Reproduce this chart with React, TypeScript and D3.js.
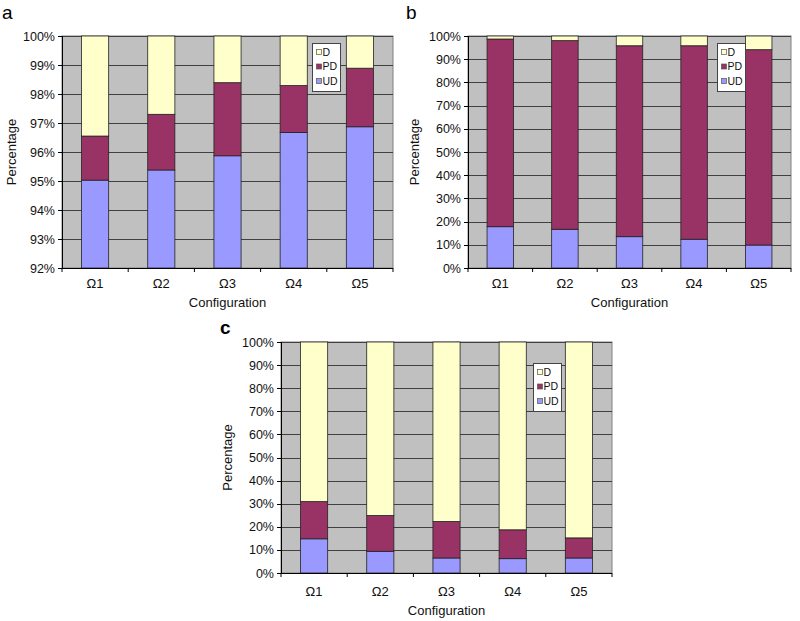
import React, { useEffect, useRef } from 'react';
import * as d3 from 'd3';

const categories = ['Ω1', 'Ω2', 'Ω3', 'Ω4', 'Ω5'];
const seriesKeys = ['UD', 'PD', 'D'];
const legendOrder = ['D', 'PD', 'UD'];

// panel a (92% - 100%)
const aUD = [95.03, 95.38, 95.87, 96.67, 96.87];
const aPD = [1.52, 1.92, 2.52, 1.62, 2.02];
const aD = [3.45, 2.7, 1.61, 1.71, 1.11];
const aTicks = [92, 93, 94, 95, 96, 97, 98, 99, 100];

// panel b
const bUD = [17.8, 16.7, 13.5, 12.4, 9.9];
const bPD = [80.9, 81.3, 82.3, 83.4, 84.2];
const bD = [1.3, 2.0, 4.2, 4.2, 5.9];

// panel c
const cUD = [14.8, 9.4, 6.5, 6.2, 6.5];
const cPD = [16.1, 15.5, 15.8, 12.5, 8.7];
const cD = [69.1, 75.1, 77.7, 81.3, 84.8];
const tens = [0, 10, 20, 30, 40, 50, 60, 70, 80, 90, 100];

const colors: Record<string, string> = { UD: '#9999ff', PD: '#993366', D: '#ffffcc' };
const font = 'Arial, "Liberation Sans", sans-serif';

interface Panel {
  letter: string;
  bold: boolean;
  ud: number[];
  pd: number[];
  d: number[];
  ticks: number[];
  domain: [number, number];
  box: { left: number; right: number; top: number; bottom: number };
  letterPos: [number, number];
  yTitleX: number;
  labelOff: number;
  titleOff: number;
  legend: { x: number; y: number };
}

const panels: Panel[] = [
  {
    letter: 'a', bold: false, ud: aUD, pd: aPD, d: aD, ticks: aTicks, domain: [92, 100],
    box: { left: 62, right: 393, top: 36, bottom: 268 },
    letterPos: [2, 19], yTitleX: 12, labelOff: 20, titleOff: 39, legend: { x: 312, y: 43 },
  },
  {
    letter: 'b', bold: false, ud: bUD, pd: bPD, d: bD, ticks: tens, domain: [0, 100],
    box: { left: 468, right: 791, top: 36, bottom: 268 },
    letterPos: [406, 19], yTitleX: 415, labelOff: 20, titleOff: 39, legend: { x: 717, y: 43 },
  },
  {
    letter: 'c', bold: true, ud: cUD, pd: cPD, d: cD, ticks: tens, domain: [0, 100],
    box: { left: 281, right: 612, top: 342, bottom: 573 },
    letterPos: [220, 334], yTitleX: 228, labelOff: 23, titleOff: 42, legend: { x: 533, y: 363 },
  },
];

function drawPanel(svg: d3.Selection<SVGSVGElement, unknown, null, undefined>, p: Panel) {
  const { left, right, top, bottom } = p.box;
  const g = svg.append('g');
  const pad = 0.59;

  const x = d3.scaleBand<string>()
    .domain(categories)
    .range([left, right])
    .paddingInner(pad)
    .paddingOuter(pad / 2);
  const step = x.step();

  const y = d3.scaleLinear().domain(p.domain).range([bottom, top]).clamp(true);

  const rows = categories.map((c, i) => ({ cat: c, UD: p.ud[i], PD: p.pd[i], D: p.d[i] }));
  const stacked = d3.stack<any>().keys(seriesKeys)(rows);

  // plot background
  g.append('rect')
    .attr('x', left).attr('y', top)
    .attr('width', right - left).attr('height', bottom - top)
    .attr('fill', '#c0c0c0')
    .attr('stroke', '#808080');

  // gridlines
  g.append('g').selectAll('line')
    .data(p.ticks)
    .join('line')
    .attr('x1', left).attr('x2', right)
    .attr('y1', d => Math.round(y(d)) + 0.5).attr('y2', d => Math.round(y(d)) + 0.5)
    .attr('stroke', '#404040')
    .attr('stroke-width', 1);

  // bars
  g.append('g').selectAll('g')
    .data(stacked)
    .join('g')
    .attr('fill', d => colors[d.key])
    .selectAll('rect')
    .data(d => d)
    .join('rect')
    .attr('x', d => x(d.data.cat)!)
    .attr('width', x.bandwidth())
    .attr('y', d => y(d[1]))
    .attr('height', d => y(d[0]) - y(d[1]))
    .attr('stroke', '#222')
    .attr('stroke-width', 0.8);

  // y axis
  g.append('line')
    .attr('x1', left + 0.5).attr('x2', left + 0.5)
    .attr('y1', top).attr('y2', bottom)
    .attr('stroke', '#000');
  g.append('g').selectAll('line')
    .data(p.ticks)
    .join('line')
    .attr('x1', left - 4).attr('x2', left)
    .attr('y1', d => Math.round(y(d)) + 0.5).attr('y2', d => Math.round(y(d)) + 0.5)
    .attr('stroke', '#000');
  g.append('g').selectAll('text')
    .data(p.ticks)
    .join('text')
    .attr('x', left - 7)
    .attr('y', d => y(d))
    .attr('dy', '0.36em')
    .attr('text-anchor', 'end')
    .attr('font-family', font)
    .attr('font-size', 12.5)
    .attr('fill', '#111')
    .text(d => `${d}%`);

  // x axis
  g.append('line')
    .attr('x1', left).attr('x2', right)
    .attr('y1', bottom + 0.5).attr('y2', bottom + 0.5)
    .attr('stroke', '#000');
  g.append('g').selectAll('line')
    .data(d3.range(categories.length + 1))
    .join('line')
    .attr('x1', i => left + i * step).attr('x2', i => left + i * step)
    .attr('y1', bottom).attr('y2', bottom + 4)
    .attr('stroke', '#000');
  g.append('g').selectAll('text')
    .data(categories)
    .join('text')
    .attr('x', c => x(c)! + x.bandwidth() / 2)
    .attr('y', bottom + p.labelOff)
    .attr('text-anchor', 'middle')
    .attr('font-family', font)
    .attr('font-size', 13)
    .attr('fill', '#111')
    .text(c => c);

  // axis titles
  g.append('text')
    .attr('x', (left + right) / 2)
    .attr('y', bottom + p.titleOff)
    .attr('text-anchor', 'middle')
    .attr('font-family', font)
    .attr('font-size', 13)
    .attr('fill', '#111')
    .text('Configuration');
  g.append('text')
    .attr('transform', `translate(${p.yTitleX + 4},${(top + bottom) / 2}) rotate(-90)`)
    .attr('text-anchor', 'middle')
    .attr('font-family', font)
    .attr('font-size', 13)
    .attr('fill', '#111')
    .text('Percentage');

  // panel letter
  g.append('text')
    .attr('x', p.letterPos[0]).attr('y', p.letterPos[1])
    .attr('font-family', font)
    .attr('font-size', 19)
    .attr('font-weight', p.bold ? 'bold' : 'normal')
    .attr('fill', '#000')
    .text(p.letter);

  // legend
  const lg = g.append('g').attr('transform', `translate(${p.legend.x},${p.legend.y})`);
  lg.append('rect')
    .attr('x', 0.5).attr('y', 0.5)
    .attr('width', 28).attr('height', 48)
    .attr('fill', '#fff')
    .attr('stroke', '#444');
  const item = lg.selectAll('g.item')
    .data(legendOrder)
    .join('g')
    .attr('class', 'item')
    .attr('transform', (_, i) => `translate(0,${9 + i * 14.5})`);
  item.append('rect')
    .attr('x', 4.5).attr('y', -2.5)
    .attr('width', 5).attr('height', 5)
    .attr('fill', k => colors[k])
    .attr('stroke', '#555')
    .attr('stroke-width', 0.7);
  item.append('text')
    .attr('x', 10.5).attr('y', 0)
    .attr('dy', '0.36em')
    .attr('font-family', font)
    .attr('font-size', 10.5)
    .attr('fill', '#111')
    .text(k => k);
}

export default function App() {
  const svgRef = useRef<SVGSVGElement>(null);

  useEffect(() => {
    if (!svgRef.current) return;
    const svg = d3.select(svgRef.current);
    svg.selectAll('*').remove();
    svg.append('rect').attr('width', 800).attr('height', 621).attr('fill', '#fff');
    panels.forEach(p => drawPanel(svg, p));
  }, []);

  return (
    <svg
      ref={svgRef}
      width={800}
      height={621}
      style={{ position: 'absolute', left: 0, top: 0, display: 'block' }}
    />
  );
}
